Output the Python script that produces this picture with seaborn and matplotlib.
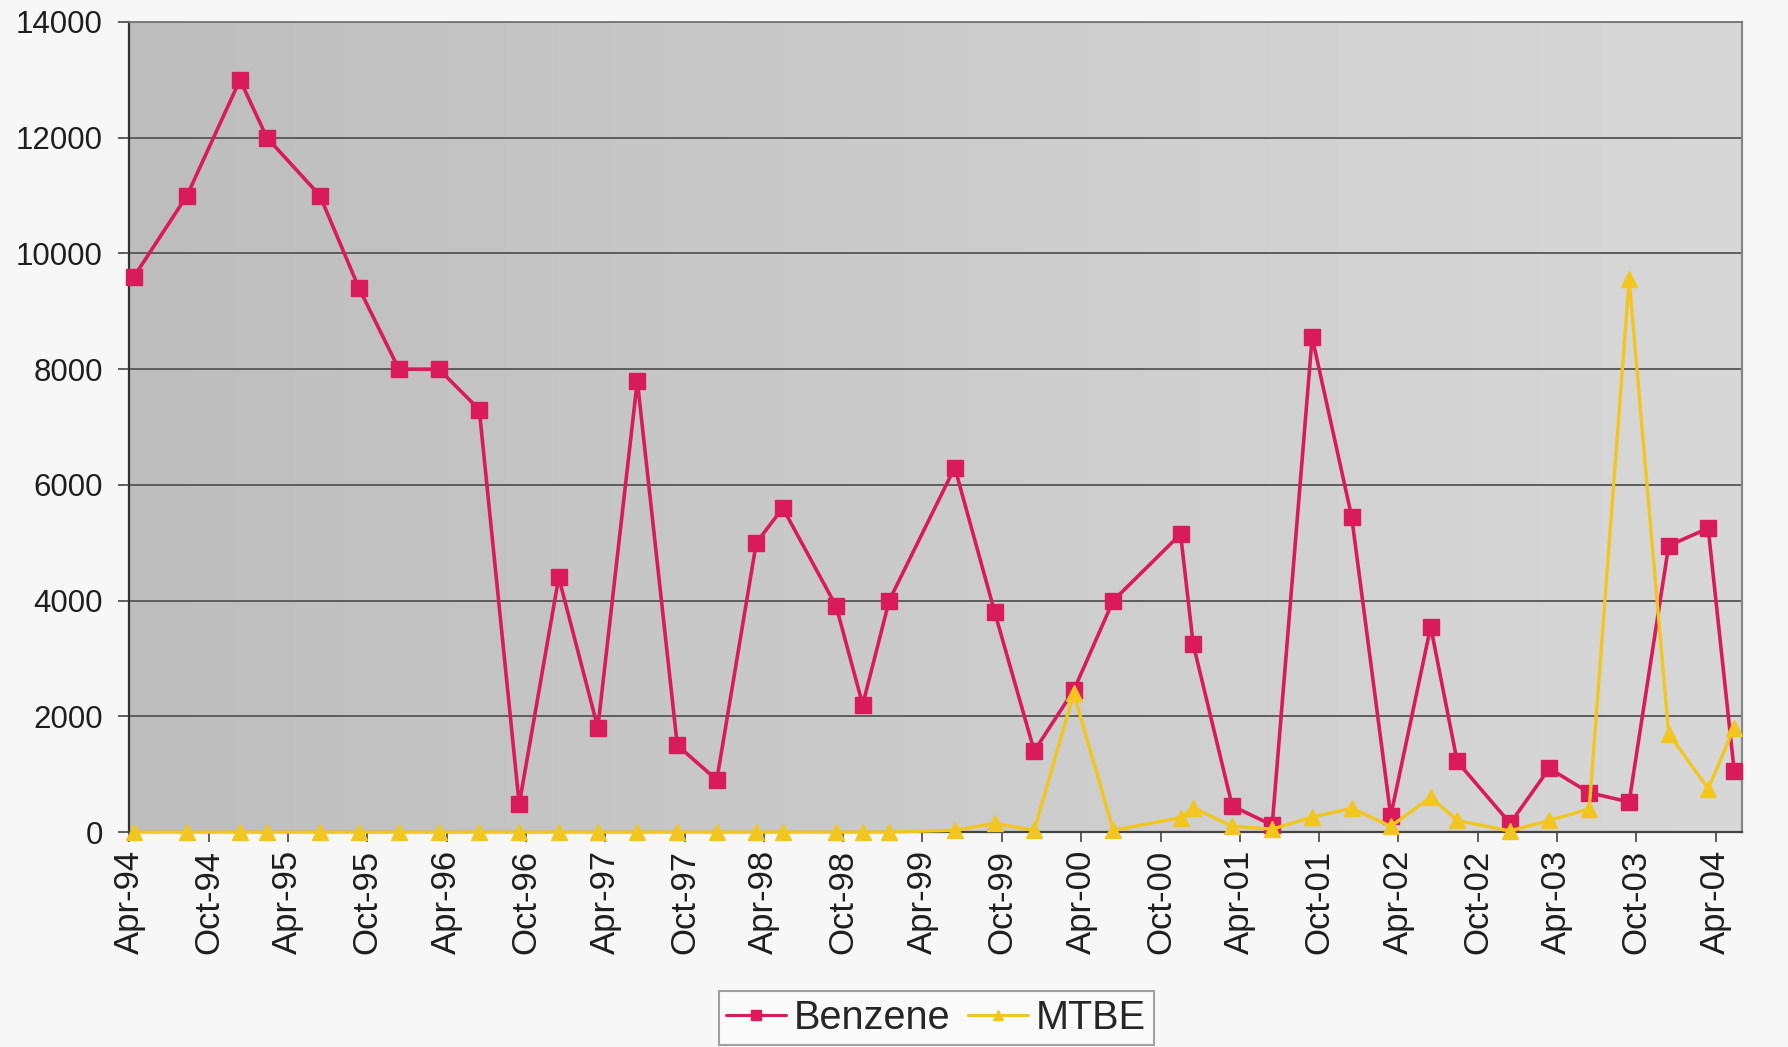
import numpy as np
import pandas as pd
import matplotlib
matplotlib.use("Agg")
import matplotlib.pyplot as plt
import matplotlib.dates as mdates
from matplotlib.colors import LinearSegmentedColormap
from matplotlib.lines import Line2D
import seaborn as sns

# Sampling dates (quarterly-ish monitoring)
sample_dates = [
    "1994-04-12", "1994-08-12", "1994-12-12", "1995-02-12", "1995-06-14",
    "1995-09-12", "1995-12-13", "1996-03-14", "1996-06-15", "1996-09-15",
    "1996-12-15", "1997-03-15", "1997-06-14", "1997-09-14", "1997-12-14",
    "1998-03-15", "1998-05-15", "1998-09-15", "1998-11-15", "1999-01-15",
    "1999-06-15", "1999-09-15", "1999-12-15", "2000-03-15", "2000-06-14",
    "2000-11-16", "2000-12-15", "2001-03-15", "2001-06-15", "2001-09-15",
    "2001-12-15", "2002-03-15", "2002-06-15", "2002-08-15", "2002-12-15",
    "2003-03-15", "2003-06-15", "2003-09-15", "2003-12-15", "2004-03-15",
    "2004-05-14",
]

benzene = [
    9600, 11000, 13000, 12000, 11000, 9400, 8000, 8000, 7300, 480,
    4400, 1800, 7800, 1500, 900, 5000, 5600, 3900, 2200, 4000,
    6300, 3800, 1400, 2450, 4000, 5150, 3250, 450, 120, 8550,
    5450, 280, 3550, 1220, 150, 1100, 680, 520, 4950, 5250,
    1050,
]

mtbe = [
    0, 0, 0, 0, 0, 0, 0, 0, 0, 0,
    0, 0, 0, 0, 0, 0, 0, 0, 0, 0,
    30, 150, 30, 2400, 30, 250, 420, 100, 50, 260,
    410, 100, 600, 200, 20, 200, 400, 9550, 1700, 750,
    1800,
]

y_ticks = [0, 2000, 4000, 6000, 8000, 10000, 12000, 14000]
x_start, x_end = "1994-04-01", "2004-06-01"

BENZ = "#d91a5b"
MTBE_C = "#f2c61f"

sns.set_style("white")
plt.rcParams["font.family"] = ["Liberation Sans", "DejaVu Sans"]

df = pd.DataFrame({
    "date": pd.to_datetime(sample_dates),
    "Benzene": benzene,
    "MTBE": mtbe,
})

fig = plt.figure(figsize=(17.88, 10.47), dpi=100, facecolor="#f7f7f7")
pos = [0.0723, 0.2053, 0.9020, 0.7737]

# gray gradient plot area
bg = fig.add_axes(pos, zorder=0)
cmap = LinearSegmentedColormap.from_list(
    "plotarea", ["#bdbdbd", "#c7c7c7", "#d0d0d0", "#d8d8d8"])
bg.imshow(np.linspace(0, 1, 256).reshape(1, -1), aspect="auto",
          cmap=cmap, extent=[0, 1, 0, 1])
bg.set_axis_off()

ax = fig.add_axes(pos, zorder=1)
ax.patch.set_alpha(0)

sns.lineplot(data=df, x="date", y="Benzene", ax=ax, color=BENZ,
             marker="s", markersize=11.5, markeredgecolor=BENZ,
             markeredgewidth=1, linewidth=2.6, zorder=3, clip_on=False,
             legend=False)
sns.lineplot(data=df, x="date", y="MTBE", ax=ax, color=MTBE_C,
             marker="^", markersize=11.5, markeredgecolor=MTBE_C,
             markeredgewidth=1, linewidth=2.4, zorder=4, clip_on=False,
             legend=False)

ax.set_ylim(0, 14000)
ax.set_yticks(y_ticks)
ax.set_xlim(pd.Timestamp(x_start), pd.Timestamp(x_end))
ax.xaxis.set_major_locator(mdates.MonthLocator(bymonth=(4, 10)))
ax.xaxis.set_major_formatter(mdates.DateFormatter("%b-%y"))
ax.set_xlabel("")
ax.set_ylabel("")

ax.tick_params(axis="x", rotation=90, labelsize=25, length=7, width=1.2,
               pad=6, color="#444444", labelcolor="#1e1e1e", bottom=True)
ax.tick_params(axis="y", labelsize=22.5, length=8, width=1.2, pad=11,
               color="#444444", labelcolor="#1e1e1e", left=True)

ax.yaxis.grid(True, color="#555555", linewidth=1.3)
ax.xaxis.grid(False)
ax.set_axisbelow(True)

for side, col, lw in [("left", "#333333", 1.6), ("bottom", "#444444", 1.6),
                      ("top", "#777777", 1.3), ("right", "#888888", 1.6)]:
    ax.spines[side].set_visible(True)
    ax.spines[side].set_color(col)
    ax.spines[side].set_linewidth(lw)

handles = [
    Line2D([], [], color=BENZ, marker="s", markersize=7.5, linewidth=2.2),
    Line2D([], [], color=MTBE_C, marker="^", markersize=7.5, linewidth=2.2),
]
leg = fig.legend(handles, ["Benzene", "MTBE"], loc="lower center",
                 bbox_to_anchor=(0.5235, 0.002), ncol=2, frameon=True,
                 fancybox=False, edgecolor="#8a8a8a", facecolor="#fbfbfb",
                 fontsize=28.5, handlelength=1.5, handletextpad=0.2,
                 columnspacing=0.45, borderpad=0.2, borderaxespad=0)
leg.get_frame().set_linewidth(1.5)

fig.savefig("out.png", dpi=100, facecolor=fig.get_facecolor())
